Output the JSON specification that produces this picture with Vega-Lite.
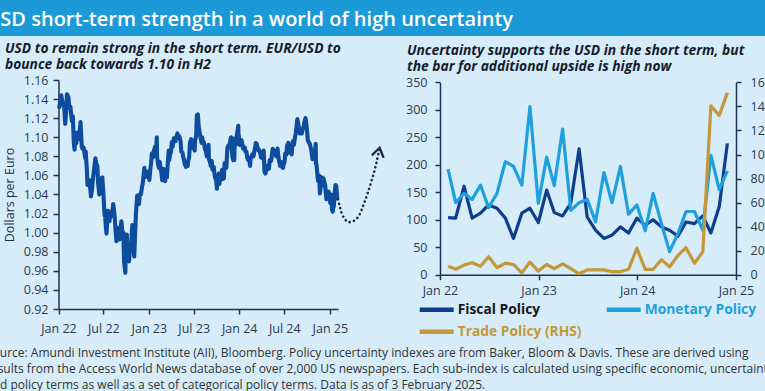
{
  "$schema": "https://vega.github.io/schema/vega-lite/v6.json",
  "background": "#d6ecf8",
  "padding": 0,
  "spacing": 5,
  "config": {
    "view": {"stroke": null},
    "font": "Open Sans",
    "axis": {"grid": false, "domainColor": "#1f3352", "domainWidth": 1.5, "tickColor": "#1f3352", "tickWidth": 1.5, "tickSize": 5, "labelColor": "#2b3a50", "labelFont": "Open Sans", "labelFontSize": 12.5, "labelFlush": false, "labelOverlap": false, "labelBound": false, "titleFont": "Open Sans", "titleFontWeight": "normal", "titleColor": "#1f2d45", "titleFontSize": 12.5},
    "title": {"anchor": "start", "frame": "group", "font": "Open Sans", "fontSize": 13.8, "fontWeight": "bold", "fontStyle": "italic", "color": "#161c2c", "lineHeight": 16, "offset": 2.5, "baseline": "bottom"},
    "legend": {"orient": "none", "legendX": 428.7, "legendY": 301.7, "direction": "horizontal", "columns": 2, "columnPadding": 16, "rowPadding": 4, "symbolType": "M-3,0L3,0", "symbolSize": 128, "symbolStrokeWidth": 4.5, "labelFont": "Open Sans", "labelFontSize": 13.8, "labelFontWeight": "bold", "labelOffset": 13, "labelLimit": 300}
  },
  "datasets": {
    "banner": [{"t": "USD short-term strength in a world of high uncertainty"}],
    "note": [{"t": "Source: Amundi Investment Institute (AII), Bloomberg. Policy uncertainty indexes are from Baker, Bloom & Davis. These are derived using\nresults from the Access World News database of over 2,000 US newspapers. Each sub-index is calculated using specific economic, uncertainty\nand policy terms as well as a set of categorical policy terms. Data is as of 3 February 2025."}],
    "eur": [
      {"d":"2022-01-03","v":1.130},{"d":"2022-01-07","v":1.136},{"d":"2022-01-12","v":1.144},{"d":"2022-01-14","v":1.141},{"d":"2022-01-19","v":1.134},{"d":"2022-01-24","v":1.132},{"d":"2022-01-28","v":1.114},
      {"d":"2022-02-01","v":1.127},{"d":"2022-02-04","v":1.145},{"d":"2022-02-10","v":1.142},{"d":"2022-02-14","v":1.131},{"d":"2022-02-18","v":1.132},{"d":"2022-02-24","v":1.117},{"d":"2022-02-28","v":1.122},
      {"d":"2022-03-04","v":1.093},{"d":"2022-03-07","v":1.087},{"d":"2022-03-10","v":1.098},{"d":"2022-03-14","v":1.094},{"d":"2022-03-18","v":1.105},{"d":"2022-03-22","v":1.102},{"d":"2022-03-25","v":1.098},{"d":"2022-03-31","v":1.116},
      {"d":"2022-04-05","v":1.090},{"d":"2022-04-08","v":1.088},{"d":"2022-04-13","v":1.089},{"d":"2022-04-19","v":1.078},{"d":"2022-04-21","v":1.085},{"d":"2022-04-26","v":1.064},{"d":"2022-04-28","v":1.050},
      {"d":"2022-05-03","v":1.052},{"d":"2022-05-06","v":1.055},{"d":"2022-05-12","v":1.038},{"d":"2022-05-16","v":1.044},{"d":"2022-05-20","v":1.056},{"d":"2022-05-25","v":1.067},{"d":"2022-05-30","v":1.078},
      {"d":"2022-06-03","v":1.072},{"d":"2022-06-07","v":1.070},{"d":"2022-06-10","v":1.052},{"d":"2022-06-15","v":1.040},{"d":"2022-06-17","v":1.050},{"d":"2022-06-22","v":1.057},{"d":"2022-06-27","v":1.058},
      {"d":"2022-07-01","v":1.043},{"d":"2022-07-06","v":1.018},{"d":"2022-07-08","v":1.018},{"d":"2022-07-12","v":1.004},{"d":"2022-07-14","v":0.999},{"d":"2022-07-19","v":1.023},{"d":"2022-07-22","v":1.021},{"d":"2022-07-26","v":1.012},{"d":"2022-07-29","v":1.022},
      {"d":"2022-08-02","v":1.017},{"d":"2022-08-05","v":1.018},{"d":"2022-08-10","v":1.030},{"d":"2022-08-12","v":1.026},{"d":"2022-08-16","v":1.017},{"d":"2022-08-19","v":1.004},{"d":"2022-08-23","v":0.991},{"d":"2022-08-26","v":0.997},{"d":"2022-08-31","v":1.005},
      {"d":"2022-09-05","v":0.993},{"d":"2022-09-09","v":1.004},{"d":"2022-09-12","v":1.012},{"d":"2022-09-16","v":1.001},{"d":"2022-09-20","v":1.000},{"d":"2022-09-23","v":0.969},{"d":"2022-09-26","v":0.963},{"d":"2022-09-28","v":0.958},{"d":"2022-09-30","v":0.980},
      {"d":"2022-10-04","v":0.998},{"d":"2022-10-07","v":0.974},{"d":"2022-10-13","v":0.970},{"d":"2022-10-17","v":0.984},{"d":"2022-10-21","v":0.986},{"d":"2022-10-26","v":1.008},{"d":"2022-10-28","v":0.996},
      {"d":"2022-11-03","v":0.975},{"d":"2022-11-07","v":1.002},{"d":"2022-11-10","v":1.021},{"d":"2022-11-15","v":1.039},{"d":"2022-11-18","v":1.032},{"d":"2022-11-22","v":1.030},{"d":"2022-11-25","v":1.040},{"d":"2022-11-30","v":1.040},
      {"d":"2022-12-05","v":1.049},{"d":"2022-12-07","v":1.051},{"d":"2022-12-14","v":1.068},{"d":"2022-12-16","v":1.058},{"d":"2022-12-21","v":1.062},{"d":"2022-12-28","v":1.064},
      {"d":"2023-01-03","v":1.055},{"d":"2023-01-06","v":1.064},{"d":"2023-01-11","v":1.075},{"d":"2023-01-13","v":1.083},{"d":"2023-01-18","v":1.079},{"d":"2023-01-20","v":1.085},{"d":"2023-01-26","v":1.090},{"d":"2023-01-30","v":1.085},
      {"d":"2023-02-02","v":1.100},{"d":"2023-02-03","v":1.080},{"d":"2023-02-07","v":1.072},{"d":"2023-02-10","v":1.068},{"d":"2023-02-14","v":1.074},{"d":"2023-02-17","v":1.069},{"d":"2023-02-22","v":1.060},{"d":"2023-02-24","v":1.055},
      {"d":"2023-03-01","v":1.067},{"d":"2023-03-03","v":1.063},{"d":"2023-03-08","v":1.054},{"d":"2023-03-10","v":1.064},{"d":"2023-03-15","v":1.058},{"d":"2023-03-17","v":1.067},{"d":"2023-03-22","v":1.086},{"d":"2023-03-24","v":1.076},{"d":"2023-03-29","v":1.084},{"d":"2023-03-31","v":1.084},
      {"d":"2023-04-04","v":1.095},{"d":"2023-04-07","v":1.090},{"d":"2023-04-12","v":1.099},{"d":"2023-04-14","v":1.099},{"d":"2023-04-19","v":1.096},{"d":"2023-04-21","v":1.099},{"d":"2023-04-26","v":1.104},{"d":"2023-04-28","v":1.101},
      {"d":"2023-05-02","v":1.099},{"d":"2023-05-04","v":1.101},{"d":"2023-05-09","v":1.096},{"d":"2023-05-12","v":1.085},{"d":"2023-05-17","v":1.084},{"d":"2023-05-19","v":1.080},{"d":"2023-05-24","v":1.075},{"d":"2023-05-26","v":1.072},{"d":"2023-05-31","v":1.069},
      {"d":"2023-06-02","v":1.071},{"d":"2023-06-07","v":1.070},{"d":"2023-06-09","v":1.075},{"d":"2023-06-13","v":1.080},{"d":"2023-06-16","v":1.094},{"d":"2023-06-21","v":1.098},{"d":"2023-06-23","v":1.089},{"d":"2023-06-28","v":1.091},{"d":"2023-06-30","v":1.091},
      {"d":"2023-07-05","v":1.086},{"d":"2023-07-07","v":1.097},{"d":"2023-07-11","v":1.101},{"d":"2023-07-14","v":1.123},{"d":"2023-07-18","v":1.124},{"d":"2023-07-21","v":1.112},{"d":"2023-07-25","v":1.105},{"d":"2023-07-28","v":1.101},
      {"d":"2023-08-02","v":1.094},{"d":"2023-08-04","v":1.100},{"d":"2023-08-08","v":1.095},{"d":"2023-08-11","v":1.095},{"d":"2023-08-16","v":1.087},{"d":"2023-08-18","v":1.087},{"d":"2023-08-23","v":1.080},{"d":"2023-08-25","v":1.080},{"d":"2023-08-30","v":1.092},
      {"d":"2023-09-01","v":1.077},{"d":"2023-09-06","v":1.073},{"d":"2023-09-08","v":1.070},{"d":"2023-09-12","v":1.075},{"d":"2023-09-15","v":1.066},{"d":"2023-09-20","v":1.069},{"d":"2023-09-22","v":1.064},{"d":"2023-09-26","v":1.057},{"d":"2023-09-29","v":1.057},
      {"d":"2023-10-03","v":1.046},{"d":"2023-10-06","v":1.059},{"d":"2023-10-11","v":1.062},{"d":"2023-10-13","v":1.051},{"d":"2023-10-17","v":1.058},{"d":"2023-10-20","v":1.059},{"d":"2023-10-24","v":1.066},{"d":"2023-10-26","v":1.056},{"d":"2023-10-31","v":1.057},
      {"d":"2023-11-03","v":1.073},{"d":"2023-11-07","v":1.070},{"d":"2023-11-10","v":1.068},{"d":"2023-11-14","v":1.088},{"d":"2023-11-17","v":1.091},{"d":"2023-11-21","v":1.091},{"d":"2023-11-24","v":1.094},{"d":"2023-11-29","v":1.100},
      {"d":"2023-12-01","v":1.088},{"d":"2023-12-05","v":1.079},{"d":"2023-12-08","v":1.076},{"d":"2023-12-12","v":1.076},{"d":"2023-12-14","v":1.099},{"d":"2023-12-18","v":1.092},{"d":"2023-12-22","v":1.101},{"d":"2023-12-28","v":1.112},{"d":"2023-12-29","v":1.104},
      {"d":"2024-01-03","v":1.092},{"d":"2024-01-05","v":1.094},{"d":"2024-01-10","v":1.097},{"d":"2024-01-12","v":1.095},{"d":"2024-01-17","v":1.088},{"d":"2024-01-19","v":1.090},{"d":"2024-01-24","v":1.089},{"d":"2024-01-26","v":1.085},{"d":"2024-01-30","v":1.085},
      {"d":"2024-02-02","v":1.079},{"d":"2024-02-06","v":1.076},{"d":"2024-02-09","v":1.078},{"d":"2024-02-14","v":1.070},{"d":"2024-02-16","v":1.078},{"d":"2024-02-21","v":1.081},{"d":"2024-02-23","v":1.082},{"d":"2024-02-28","v":1.080},
      {"d":"2024-03-01","v":1.084},{"d":"2024-03-06","v":1.090},{"d":"2024-03-08","v":1.094},{"d":"2024-03-12","v":1.093},{"d":"2024-03-15","v":1.089},{"d":"2024-03-19","v":1.086},{"d":"2024-03-21","v":1.087},{"d":"2024-03-26","v":1.083},{"d":"2024-03-29","v":1.079},
      {"d":"2024-04-03","v":1.078},{"d":"2024-04-05","v":1.084},{"d":"2024-04-09","v":1.086},{"d":"2024-04-12","v":1.064},{"d":"2024-04-16","v":1.062},{"d":"2024-04-19","v":1.066},{"d":"2024-04-23","v":1.070},{"d":"2024-04-26","v":1.069},{"d":"2024-04-30","v":1.067},
      {"d":"2024-05-03","v":1.076},{"d":"2024-05-08","v":1.075},{"d":"2024-05-10","v":1.077},{"d":"2024-05-15","v":1.088},{"d":"2024-05-17","v":1.087},{"d":"2024-05-21","v":1.085},{"d":"2024-05-24","v":1.085},{"d":"2024-05-29","v":1.080},{"d":"2024-05-31","v":1.085},
      {"d":"2024-06-04","v":1.088},{"d":"2024-06-07","v":1.080},{"d":"2024-06-11","v":1.074},{"d":"2024-06-14","v":1.070},{"d":"2024-06-18","v":1.074},{"d":"2024-06-21","v":1.069},{"d":"2024-06-26","v":1.068},{"d":"2024-06-28","v":1.071},
      {"d":"2024-07-02","v":1.074},{"d":"2024-07-05","v":1.083},{"d":"2024-07-10","v":1.082},{"d":"2024-07-12","v":1.091},{"d":"2024-07-17","v":1.094},{"d":"2024-07-19","v":1.088},{"d":"2024-07-24","v":1.084},{"d":"2024-07-26","v":1.086},{"d":"2024-07-31","v":1.082},
      {"d":"2024-08-02","v":1.091},{"d":"2024-08-05","v":1.096},{"d":"2024-08-09","v":1.092},{"d":"2024-08-14","v":1.101},{"d":"2024-08-16","v":1.103},{"d":"2024-08-21","v":1.115},{"d":"2024-08-23","v":1.119},{"d":"2024-08-28","v":1.112},{"d":"2024-08-30","v":1.105},
      {"d":"2024-09-03","v":1.104},{"d":"2024-09-06","v":1.108},{"d":"2024-09-10","v":1.104},{"d":"2024-09-13","v":1.108},{"d":"2024-09-18","v":1.112},{"d":"2024-09-20","v":1.116},{"d":"2024-09-25","v":1.120},{"d":"2024-09-27","v":1.116},
      {"d":"2024-10-01","v":1.107},{"d":"2024-10-04","v":1.097},{"d":"2024-10-09","v":1.094},{"d":"2024-10-11","v":1.094},{"d":"2024-10-16","v":1.089},{"d":"2024-10-18","v":1.087},{"d":"2024-10-23","v":1.077},{"d":"2024-10-25","v":1.080},{"d":"2024-10-30","v":1.085},
      {"d":"2024-11-01","v":1.083},{"d":"2024-11-05","v":1.093},{"d":"2024-11-06","v":1.072},{"d":"2024-11-08","v":1.072},{"d":"2024-11-13","v":1.057},{"d":"2024-11-15","v":1.054},{"d":"2024-11-19","v":1.060},{"d":"2024-11-22","v":1.041},{"d":"2024-11-26","v":1.049},{"d":"2024-11-29","v":1.058},
      {"d":"2024-12-03","v":1.050},{"d":"2024-12-06","v":1.057},{"d":"2024-12-10","v":1.053},{"d":"2024-12-13","v":1.050},{"d":"2024-12-18","v":1.035},{"d":"2024-12-20","v":1.043},{"d":"2024-12-24","v":1.041},{"d":"2024-12-27","v":1.043},{"d":"2024-12-31","v":1.035},
      {"d":"2025-01-03","v":1.031},{"d":"2025-01-06","v":1.040},{"d":"2025-01-10","v":1.024},{"d":"2025-01-13","v":1.022},{"d":"2025-01-15","v":1.030},{"d":"2025-01-17","v":1.027},{"d":"2025-01-21","v":1.043},{"d":"2025-01-24","v":1.050},{"d":"2025-01-27","v":1.049},{"d":"2025-01-31","v":1.036},{"d":"2025-02-03","v":1.035}
    ],
    "fcst": [
      {"d":"2025-02-03","v":1.035},{"d":"2025-02-22","v":1.018},{"d":"2025-03-21","v":1.011},{"d":"2025-04-24","v":1.016},{"d":"2025-05-21","v":1.032},{"d":"2025-06-17","v":1.053},{"d":"2025-07-07","v":1.072},{"d":"2025-07-21","v":1.089}
    ],
    "tip": [{"d":"2025-07-21","v":1.089}],
    "epu": [
      {"d":"2022-01-31","Fiscal Policy":104,"Monetary Policy":192,"Trade Policy (RHS)":7},
      {"d":"2022-02-28","Fiscal Policy":103,"Monetary Policy":131,"Trade Policy (RHS)":4.5},
      {"d":"2022-03-31","Fiscal Policy":161,"Monetary Policy":148,"Trade Policy (RHS)":8},
      {"d":"2022-04-30","Fiscal Policy":103,"Monetary Policy":137,"Trade Policy (RHS)":10},
      {"d":"2022-05-31","Fiscal Policy":112,"Monetary Policy":163,"Trade Policy (RHS)":7},
      {"d":"2022-06-30","Fiscal Policy":127,"Monetary Policy":122,"Trade Policy (RHS)":15},
      {"d":"2022-07-31","Fiscal Policy":121,"Monetary Policy":148,"Trade Policy (RHS)":6},
      {"d":"2022-08-31","Fiscal Policy":103,"Monetary Policy":206,"Trade Policy (RHS)":9.5},
      {"d":"2022-09-30","Fiscal Policy":66,"Monetary Policy":197,"Trade Policy (RHS)":8.5},
      {"d":"2022-10-31","Fiscal Policy":112,"Monetary Policy":163,"Trade Policy (RHS)":1.5},
      {"d":"2022-11-30","Fiscal Policy":121,"Monetary Policy":306,"Trade Policy (RHS)":10.5},
      {"d":"2022-12-31","Fiscal Policy":95,"Monetary Policy":130,"Trade Policy (RHS)":3},
      {"d":"2023-01-31","Fiscal Policy":154,"Monetary Policy":214,"Trade Policy (RHS)":8.5},
      {"d":"2023-02-28","Fiscal Policy":113,"Monetary Policy":162,"Trade Policy (RHS)":5},
      {"d":"2023-03-31","Fiscal Policy":107,"Monetary Policy":265,"Trade Policy (RHS)":9},
      {"d":"2023-04-30","Fiscal Policy":130,"Monetary Policy":117,"Trade Policy (RHS)":5},
      {"d":"2023-05-31","Fiscal Policy":229,"Monetary Policy":131,"Trade Policy (RHS)":0.8},
      {"d":"2023-06-30","Fiscal Policy":105,"Monetary Policy":137,"Trade Policy (RHS)":4},
      {"d":"2023-07-31","Fiscal Policy":81,"Monetary Policy":96,"Trade Policy (RHS)":4},
      {"d":"2023-08-31","Fiscal Policy":66,"Monetary Policy":186,"Trade Policy (RHS)":4},
      {"d":"2023-09-30","Fiscal Policy":72,"Monetary Policy":131,"Trade Policy (RHS)":2.5},
      {"d":"2023-10-31","Fiscal Policy":87,"Monetary Policy":197,"Trade Policy (RHS)":2.5},
      {"d":"2023-11-30","Fiscal Policy":76,"Monetary Policy":110,"Trade Policy (RHS)":4.5},
      {"d":"2023-12-31","Fiscal Policy":103,"Monetary Policy":127,"Trade Policy (RHS)":22},
      {"d":"2024-01-31","Fiscal Policy":90,"Monetary Policy":80,"Trade Policy (RHS)":4.5},
      {"d":"2024-02-29","Fiscal Policy":100,"Monetary Policy":148,"Trade Policy (RHS)":4.5},
      {"d":"2024-03-31","Fiscal Policy":87,"Monetary Policy":93,"Trade Policy (RHS)":12.5},
      {"d":"2024-04-30","Fiscal Policy":81,"Monetary Policy":42,"Trade Policy (RHS)":6.5},
      {"d":"2024-05-31","Fiscal Policy":70,"Monetary Policy":75,"Trade Policy (RHS)":16},
      {"d":"2024-06-30","Fiscal Policy":96,"Monetary Policy":115,"Trade Policy (RHS)":22.5},
      {"d":"2024-07-31","Fiscal Policy":93,"Monetary Policy":115,"Trade Policy (RHS)":9.5},
      {"d":"2024-08-31","Fiscal Policy":107,"Monetary Policy":81,"Trade Policy (RHS)":19},
      {"d":"2024-09-30","Fiscal Policy":76,"Monetary Policy":217,"Trade Policy (RHS)":140.5},
      {"d":"2024-10-31","Fiscal Policy":124,"Monetary Policy":155,"Trade Policy (RHS)":132.5},
      {"d":"2024-11-30","Fiscal Policy":239,"Monetary Policy":189,"Trade Policy (RHS)":151.5}
    ]
  },
  "vconcat": [
    {
      "width": 780,
      "height": 36,
      "view": {"fill": "#1b9ad7", "stroke": null},
      "data": {"name": "banner"},
      "mark": {"type": "text", "clip": true, "x": -14.5, "y": 26, "align": "left", "baseline": "alphabetic", "font": "Open Sans", "fontSize": 20, "fontWeight": 600, "color": "#ffffff"},
      "encoding": {"text": {"field": "t", "type": "nominal"}}
    },
    {
      "hconcat": [
        {
          "width": 338,
          "height": 229,
          "title": {"text": ["USD to remain strong in the short term. EUR/USD to", "bounce back towards 1.10 in H2"], "dx": 5},
          "layer": [
            {
              "data": {"name": "eur"},
              "mark": {"type": "line", "color": "#0e4c9d", "strokeWidth": 4.1, "strokeJoin": "round"},
              "encoding": {
                "x": {"field": "d", "type": "temporal", "title": null,
                  "scale": {"type": "utc", "domain": [{"year": 2022, "month": 1, "date": 1, "utc": true}, {"year": 2025, "month": 2, "date": 3, "utc": true}], "range": [58.5, 338]},
                  "axis": {"values": [{"year": 2022, "month": 1, "date": 1, "utc": true}, {"year": 2022, "month": 7, "date": 1, "utc": true}, {"year": 2023, "month": 1, "date": 1, "utc": true}, {"year": 2023, "month": 7, "date": 1, "utc": true}, {"year": 2024, "month": 1, "date": 1, "utc": true}, {"year": 2024, "month": 7, "date": 1, "utc": true}, {"year": 2025, "month": 1, "date": 1, "utc": true}], "tickCount": 20, "format": "%b %y", "labelPadding": 8.5, "labelOverlap": false}},
                "y": {"field": "v", "type": "quantitative", "title": "Dollars per Euro",
                  "scale": {"domain": [0.92, 1.16], "nice": false, "zero": false},
                  "axis": {"values": [0.92, 0.94, 0.96, 0.98, 1.0, 1.02, 1.04, 1.06, 1.08, 1.1, 1.12, 1.14, 1.16], "tickCount": 20, "format": ".2f", "offset": -58.5, "tickSize": 5.5, "labelPadding": 5, "labelOverlap": false, "labelSeparation": 0, "titleX": -49, "titleBaseline": "middle"}}
              }
            },
            {
              "data": {"name": "fcst"},
              "mark": {"type": "line", "color": "#1c2b48", "strokeWidth": 2.6, "strokeDash": [0.1, 4.4], "strokeCap": "round", "interpolate": "monotone"},
              "encoding": {
                "x": {"field": "d", "type": "temporal"},
                "y": {"field": "v", "type": "quantitative"}
              }
            },
            {
              "data": {"name": "tip"},
              "mark": {"type": "point", "shape": "M-1,1.5L0,0L1,1.5", "size": 144, "angle": 12, "filled": false, "color": "#1c2b48", "strokeWidth": 2.4, "opacity": 1},
              "encoding": {
                "x": {"field": "d", "type": "temporal"},
                "y": {"field": "v", "type": "quantitative"}
              }
            }
          ]
        },
        {
          "width": 296,
          "height": 194.7,
          "title": {"text": ["Uncertainty supports the USD in the short term, but", "the bar for additional upside is high now"], "dx": -33},
          "data": {"name": "epu"},
          "layer": [
            {
              "transform": [{"fold": ["Fiscal Policy", "Monetary Policy"], "as": ["s", "v"]}],
              "mark": {"type": "line", "strokeWidth": 3.2, "strokeJoin": "round"},
              "encoding": {
                "x": {"field": "d", "type": "temporal", "title": null,
                  "scale": {"type": "utc", "domain": [{"year": 2022, "month": 1, "date": 1, "utc": true}, {"year": 2025, "month": 1, "date": 1, "utc": true}]},
                  "axis": {"values": [{"year": 2022, "month": 1, "date": 1, "utc": true}, {"year": 2023, "month": 1, "date": 1, "utc": true}, {"year": 2024, "month": 1, "date": 1, "utc": true}, {"year": 2025, "month": 1, "date": 1, "utc": true}], "tickCount": 20, "format": "%b %y", "labelPadding": 5, "labelOverlap": false}},
                "y": {"field": "v", "type": "quantitative", "title": null,
                  "scale": {"domain": [0, 350], "nice": false, "range": [194.7, 2.4]},
                  "axis": {"orient": "left", "values": [0, 50, 100, 150, 200, 250, 300, 350], "tickCount": 20, "labelPadding": 8, "labelOverlap": false}},
                "color": {"field": "s", "type": "nominal",
                  "scale": {"domain": ["Fiscal Policy", "Monetary Policy", "Trade Policy (RHS)"], "range": ["#0f3e8a", "#1fa0dc", "#c2983a"]},
                  "legend": {"title": null, "encode": {"labels": {"update": {"fill": {"signal": "datum.value === 'Fiscal Policy' ? '#15181f' : datum.value === 'Monetary Policy' ? '#1fa0dc' : '#c2983a'"}}}}}}
              }
            },
            {
              "transform": [{"fold": ["Trade Policy (RHS)"], "as": ["s", "v"]}],
              "mark": {"type": "line", "strokeWidth": 3.2, "strokeJoin": "round"},
              "encoding": {
                "x": {"field": "d", "type": "temporal"},
                "y": {"field": "v", "type": "quantitative", "title": null,
                  "scale": {"domain": [0, 160], "nice": false, "range": [194.7, 2.4]},
                  "axis": {"orient": "right", "values": [0, 20, 40, 60, 80, 100, 120, 140, 160], "tickCount": 20, "labelPadding": 9, "labelOverlap": false}},
                "color": {"field": "s", "type": "nominal"}
              }
            }
          ],
          "resolve": {"scale": {"y": "independent"}}
        }
      ],
      "spacing": 102,
      "bounds": "flush"
    },
    {
      "width": 765,
      "height": 52,
      "data": {"name": "note"},
      "mark": {"type": "text", "clip": true, "x": -14, "y": 16.7, "align": "left", "baseline": "alphabetic", "lineBreak": "\n", "lineHeight": 16.3, "font": "Open Sans", "fontSize": 12, "color": "#333333"},
      "encoding": {"text": {"field": "t", "type": "nominal"}}
    }
  ]
}
